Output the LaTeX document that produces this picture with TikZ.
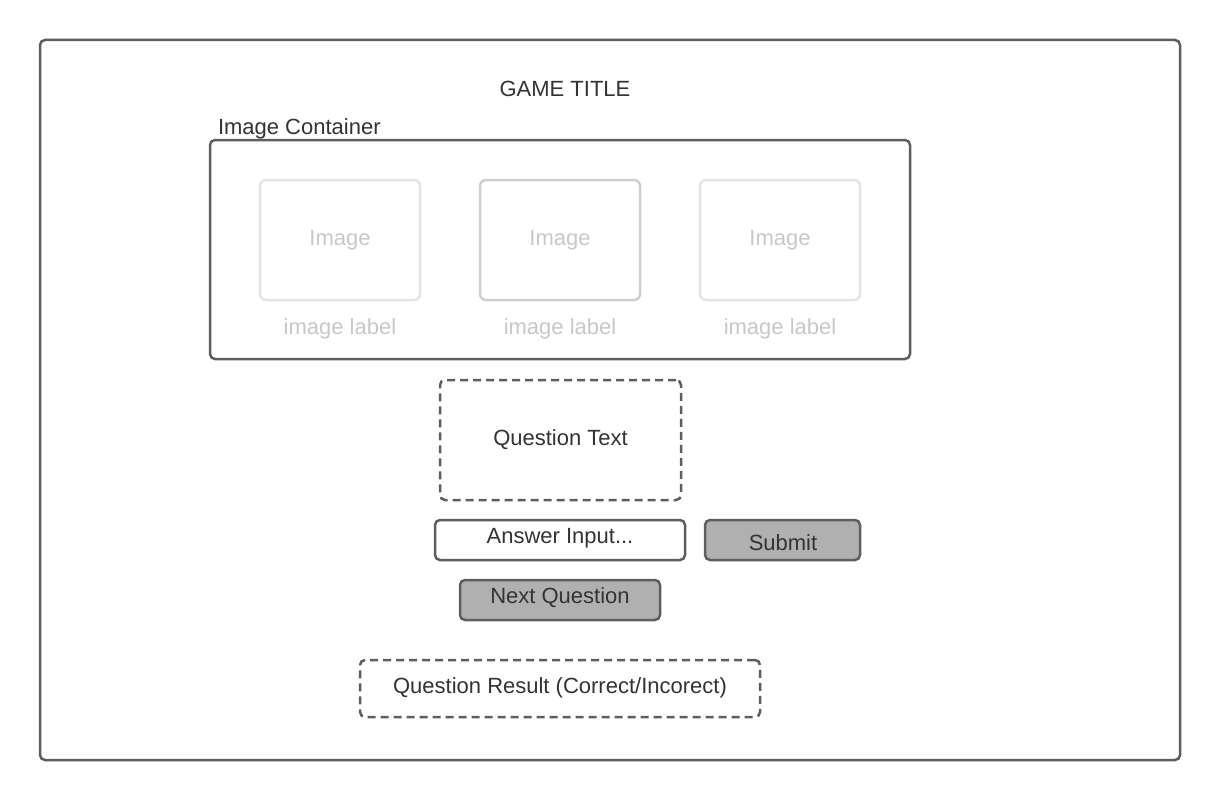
\documentclass[tikz,border=0pt]{standalone}
\usepackage{fontspec}
\setmainfont{Liberation Sans}
\definecolor{edge}{HTML}{5E5E5E}
\definecolor{ink}{HTML}{333333}
\definecolor{faint}{HTML}{C8C8C8}
\definecolor{faintedge}{HTML}{E4E4E4}
\definecolor{midedge}{HTML}{CFCFCF}
\definecolor{btnfill}{HTML}{B0B0B0}
\begin{document}
\begin{tikzpicture}[x=1pt,y=-1pt,
  every node/.style={font=\fontsize{22}{26}\selectfont, text=ink, inner sep=0pt, outer sep=0pt},
  box/.style={draw=edge, line width=2.5pt, rounded corners=5pt, rectangle},
  dashbox/.style={box, dash pattern=on 8pt off 5pt},
  imgbox/.style={draw=faintedge, line width=2.5pt, rounded corners=6pt, rectangle, minimum width=160pt, minimum height=120pt, text=faint},
  imglabel/.style={text=faint},
  btn/.style={box, fill=btnfill}
]
\useasboundingbox (0,0) rectangle (1220,800);
\node[box, minimum width=1140pt, minimum height=720pt] (frame) at (610,400) {};
\node (title) at (565,89) {GAME TITLE};
\node[anchor=west] (clabel) at (218,129) {Image Container};
\node[box, minimum width=700pt, minimum height=219pt] (container) at (560,249.5) {};
\node[imgbox] (img1) at (340,240) {Image};
\node[imgbox, draw=midedge] (img2) at (560,240) {Image};
\node[imgbox] (img3) at (780,240) {Image};
\node[imglabel] (lab1) at (340,329) {image label};
\node[imglabel] (lab2) at (560,329) {image label};
\node[imglabel] (lab3) at (780,329) {image label};
\node[dashbox, minimum width=241pt, minimum height=120pt] (qtext) at (560.5,440) {Question Text};
\node[box, minimum width=250pt, minimum height=40pt] (answer) at (560,540) {};
\node (answertext) at (560,538) {Answer Input...};
\node[btn, minimum width=155pt, minimum height=40pt] (submit) at (782.5,540) {};
\node (submittext) at (783,543) {Submit};
\node[btn, minimum width=200pt, minimum height=40pt] (next) at (560,600) {};
\node (nexttext) at (560,598) {Next Question};
\node[dashbox, minimum width=400pt, minimum height=57pt] (result) at (560,688.5) {};
\node (resulttext) at (560,688) {Question Result (Correct/Incorect)};
\end{tikzpicture}
\end{document}
